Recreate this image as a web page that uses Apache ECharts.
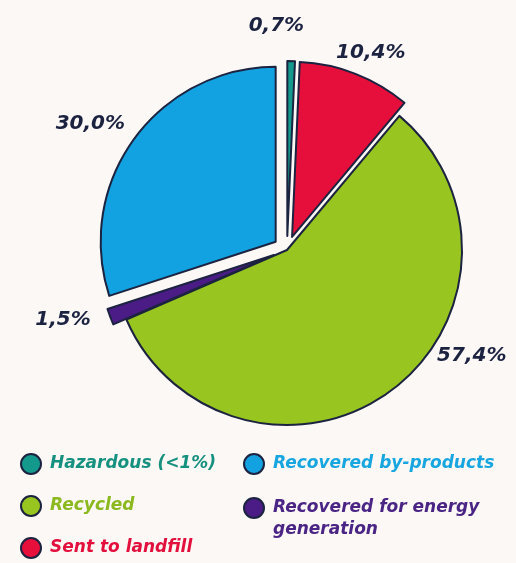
<!DOCTYPE html>
<html><head><meta charset="utf-8">
<script src="https://cdn.jsdelivr.net/npm/echarts@6/dist/echarts.min.js"></script>
<style>html,body{margin:0;padding:0;background:#fcf8f5}#c{width:516px;height:563px}</style>
</head><body><div id="c"></div>
<script>
// Data (clockwise from 12 o'clock)
const categories = ['Hazardous (<1%)', 'Sent to landfill', 'Recycled', 'Recovered for energy\ngeneration', 'Recovered by-products'];
const values = [0.7, 10.4, 57.4, 1.5, 30.0];
const labels = ['0,7%', '10,4%', '57,4%', '1,5%', '30,0%'];
const exploded = [true, true, false, true, true];

// Styles
const colors = ['#149a8c', '#e60f3c', '#98c51f', '#4b1c86', '#12a2e2'];
const textColors = ['#16907f', '#e3103e', '#8bb91f', '#4a2585', '#17a6e0'];
const legendCol1 = ['Hazardous (<1%)', 'Recycled', 'Sent to landfill'];
const legendCol2 = ['Recovered by-products', 'Recovered for energy\ngeneration'];
const labelShift = [[-24, -23], [2, -10], [64, -44], [-27, -1], [-25, -8]];
const FONT = '"DejaVu Sans", sans-serif';
const ink = '#1c2340';

const data = categories.map((c, i) => ({
  name: c, value: values[i], selected: exploded[i],
  itemStyle: { color: colors[i] },
  label: { formatter: labels[i] }
}));
function legendData(names) {
  return names.map(n => ({ name: n, textStyle: { color: textColors[categories.indexOf(n)] } }));
}
const legendBase = {
  orient: 'vertical', icon: 'circle', itemWidth: 20, itemHeight: 20,
  selectedMode: false, height: 130,
  formatter: n => n.indexOf('\n') >= 0 ? '\n' + n : n,
  textStyle: { fontFamily: FONT, fontSize: 17, fontStyle: 'italic', fontWeight: 'bold', lineHeight: 22, padding: [0, 0, 0, 4] }
};
const chart = echarts.init(document.getElementById('c'), null, { renderer: 'canvas' });
chart.setOption({
  backgroundColor: '#fcf8f5',
  animation: false,
  legend: [
    Object.assign({}, legendBase, { left: 15, top: 448, itemGap: 20, data: legendData(legendCol1) }),
    Object.assign({}, legendBase, { left: 238, top: 448, itemGap: 0, data: legendData(legendCol2) })
  ],
  series: [{
    type: 'pie',
    center: [287, 250], radius: 175,
    startAngle: 90, clockwise: true,
    selectedMode: 'multiple', selectedOffset: 14,
    avoidLabelOverlap: false,
    itemStyle: { borderColor: ink, borderWidth: 2 },
    emphasis: { disabled: true },
    label: {
      show: true, position: 'outside', color: ink,
      fontFamily: FONT, fontSize: 20, fontStyle: 'italic', fontWeight: 'bold'
    },
    labelLine: { show: false, length: 12, length2: 4 },
    labelLayout: function (p) {
      const s = labelShift[p.dataIndex];
      return { align: 'center', dx: s[0], dy: s[1] };
    },
    data: data
  }]
});
</script></body></html>
